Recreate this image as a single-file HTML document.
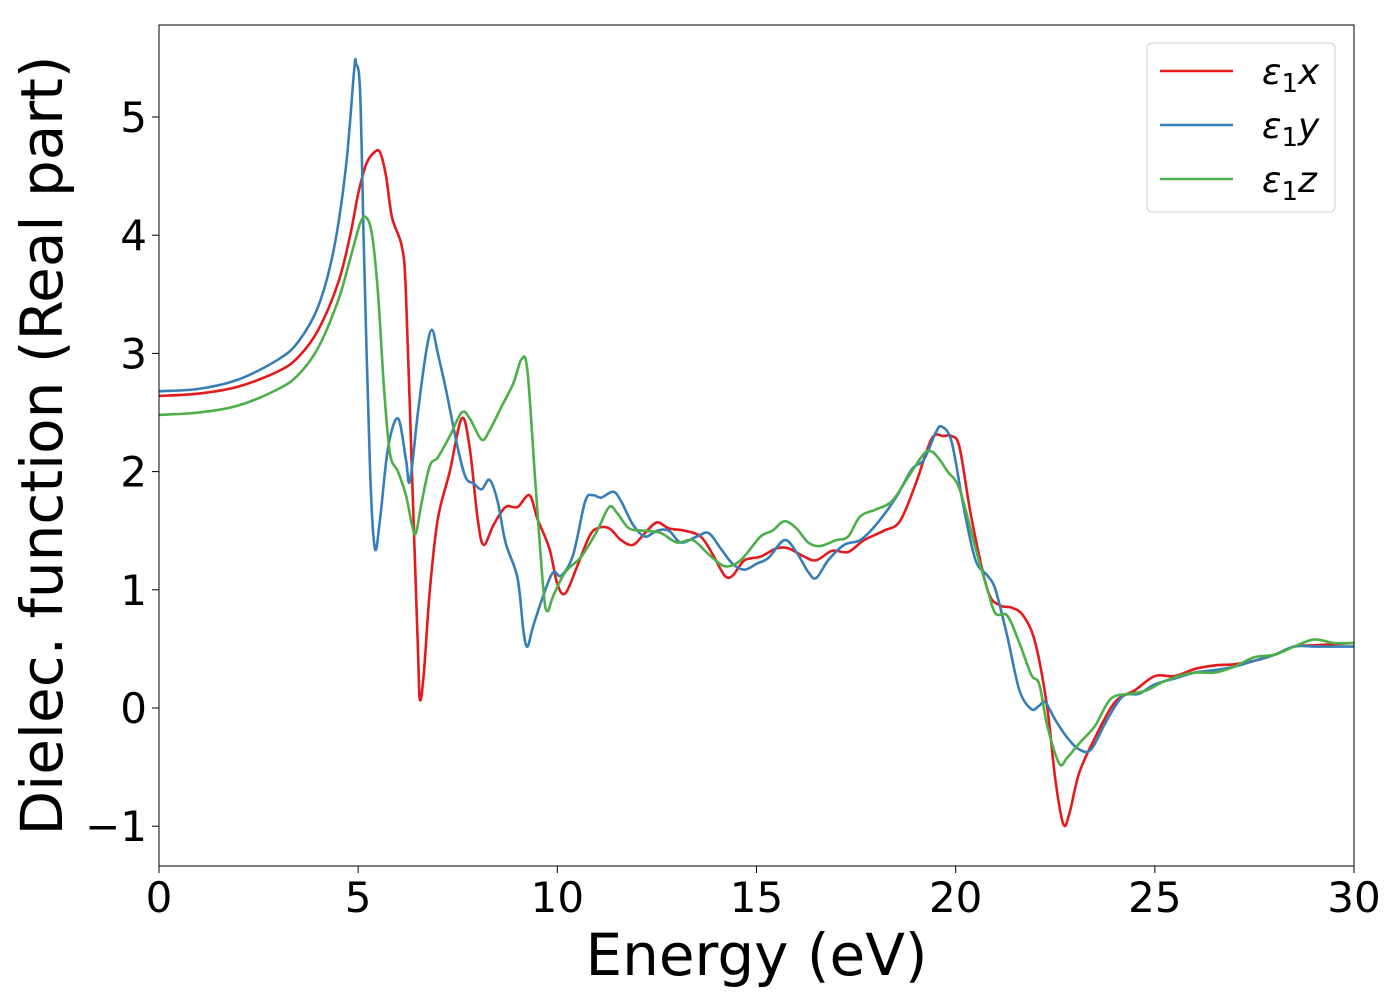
<!DOCTYPE html>
<html><head><meta charset="utf-8"><style>
html,body{margin:0;padding:0;background:#fff;width:1400px;height:1000px;overflow:hidden}
svg text{font-family:"DejaVu Sans","Liberation Sans",sans-serif;fill:#000}
</style></head><body>
<svg id="chart" width="1400" height="1000" xmlns="http://www.w3.org/2000/svg">
<g id="plot"></g>
</svg>
<script>
const xTicks=[0,5,10,15,20,25,30];
const yTicks=[-1,0,1,2,3,4,5];
const yTickLabels=["\u22121","0","1","2","3","4","5"];
const seriesNames=["x","y","z"];
const seriesColors=["#e41a1c","#377eb8","#4daf4a"];
const xE=[0,1,2,3,3.5,4,4.5,4.8,5,5.2,5.4,5.55,5.7,5.85,6.1,6.2,6.35,6.5,6.55,6.65,6.8,7.0,7.3,7.6,7.8,8.0,8.15,8.4,8.7,9.0,9.3,9.5,9.8,10.0,10.2,10.5,10.8,11.0,11.3,11.6,11.9,12.2,12.5,12.8,13.2,13.6,13.9,14.2,14.4,14.7,15.1,15.5,15.8,16.2,16.5,16.9,17.3,17.7,18.2,18.6,19.0,19.4,19.7,19.9,20.1,20.4,20.8,21.1,21.4,21.7,22.0,22.3,22.5,22.7,22.85,23.1,23.5,24,24.5,25,25.5,26,26.5,27,27.5,28,28.5,29,30];
const xV=[2.64,2.66,2.72,2.85,2.97,3.2,3.6,4.0,4.35,4.6,4.7,4.7,4.5,4.15,3.9,3.5,2.0,0.5,0.07,0.3,1.0,1.6,2.0,2.45,2.2,1.6,1.38,1.55,1.7,1.7,1.8,1.6,1.35,1.05,0.97,1.2,1.45,1.52,1.52,1.42,1.38,1.48,1.57,1.52,1.5,1.45,1.3,1.12,1.12,1.25,1.28,1.35,1.35,1.28,1.25,1.33,1.32,1.42,1.5,1.58,1.9,2.28,2.3,2.3,2.2,1.6,1.0,0.87,0.85,0.78,0.55,0.0,-0.6,-0.98,-0.9,-0.55,-0.25,0.05,0.15,0.27,0.27,0.33,0.36,0.37,0.40,0.45,0.52,0.53,0.55];
const yE=[0,1,2,3,3.5,4,4.4,4.7,4.9,4.95,5.05,5.15,5.3,5.42,5.55,5.75,6.0,6.2,6.3,6.5,6.7,6.85,7.0,7.2,7.5,7.7,7.9,8.1,8.3,8.5,8.7,9.0,9.15,9.25,9.4,9.7,9.9,10.1,10.4,10.7,10.9,11.1,11.4,11.6,11.9,12.2,12.5,12.8,13.1,13.5,13.8,14.1,14.4,14.7,15.0,15.3,15.7,16.0,16.3,16.5,16.8,17.2,17.6,18.0,18.5,18.9,19.2,19.5,19.65,19.9,20.2,20.5,20.8,21.0,21.3,21.6,21.9,22.1,22.25,22.5,22.8,23.1,23.4,23.8,24.2,24.6,25,25.5,26,26.5,27,27.5,28,28.5,29,29.5,30];
const yV=[2.68,2.70,2.78,2.95,3.1,3.4,3.9,4.6,5.4,5.45,5.2,3.8,2.0,1.35,1.6,2.2,2.45,2.1,1.92,2.5,3.0,3.2,3.0,2.7,2.2,1.95,1.9,1.85,1.93,1.75,1.4,1.1,0.65,0.52,0.7,1.0,1.15,1.12,1.3,1.75,1.8,1.78,1.83,1.75,1.55,1.45,1.5,1.5,1.4,1.45,1.48,1.35,1.22,1.17,1.22,1.27,1.42,1.32,1.15,1.1,1.25,1.38,1.42,1.55,1.78,2.02,2.1,2.33,2.38,2.25,1.7,1.25,1.12,1.0,0.6,0.15,-0.01,0.02,0.05,-0.1,-0.25,-0.35,-0.35,-0.1,0.1,0.12,0.2,0.25,0.3,0.32,0.35,0.4,0.45,0.52,0.52,0.52,0.52];
const zE=[0,1,2,3,3.5,4,4.5,4.8,5.05,5.2,5.35,5.5,5.65,5.8,6.0,6.2,6.35,6.45,6.6,6.8,7.0,7.3,7.6,7.8,8.1,8.3,8.6,8.9,9.1,9.25,9.45,9.65,9.75,9.9,10.2,10.6,11.0,11.3,11.5,11.8,12.2,12.6,13.0,13.4,13.8,14.2,14.6,15.1,15.4,15.7,16.0,16.3,16.6,17.0,17.3,17.6,18.0,18.4,18.8,19.2,19.4,19.6,19.8,20.1,20.5,20.8,21.0,21.3,21.6,21.9,22.1,22.3,22.6,22.8,23.1,23.5,23.9,24.4,24.8,25.2,25.6,26,26.5,27,27.5,28,28.5,29,29.5,30];
const zV=[2.48,2.5,2.56,2.7,2.82,3.05,3.45,3.8,4.1,4.15,4.0,3.5,2.7,2.15,2.0,1.8,1.55,1.48,1.75,2.05,2.12,2.3,2.5,2.45,2.27,2.35,2.55,2.75,2.95,2.85,1.9,1.0,0.82,0.95,1.15,1.28,1.5,1.7,1.65,1.52,1.5,1.48,1.4,1.42,1.3,1.2,1.25,1.45,1.5,1.58,1.52,1.4,1.37,1.42,1.45,1.62,1.68,1.75,1.95,2.15,2.17,2.1,2.0,1.85,1.35,1.0,0.8,0.78,0.55,0.28,0.2,-0.15,-0.47,-0.42,-0.3,-0.15,0.08,0.12,0.15,0.22,0.27,0.3,0.3,0.35,0.43,0.45,0.52,0.58,0.55,0.55];

const L=159,R=1354,T=25,B=866;
const sx=v=>L+(v-0)/(30-0)*(R-L);
const sy=v=>708-v*118.2;
const NS="http://www.w3.org/2000/svg";
const svg=document.getElementById('chart');
function mk(tag,attrs,parent){const e=document.createElementNS(NS,tag);for(const k in attrs)e.setAttribute(k,attrs[k]);(parent||svg).appendChild(e);return e;}

function smooth(xs,ys){
  const p=xs.map((x,i)=>[sx(x),sy(ys[i])]);
  let d=`M${p[0][0]},${p[0][1]}`;
  for(let i=0;i<p.length-1;i++){
    const p0=p[Math.max(0,i-1)],p1=p[i],p2=p[i+1],p3=p[Math.min(p.length-1,i+2)];
    const c1=[p1[0]+(p2[0]-p0[0])/6,p1[1]+(p2[1]-p0[1])/6];
    const c2=[p2[0]-(p3[0]-p1[0])/6,p2[1]-(p3[1]-p1[1])/6];
    d+=` C${c1[0]},${c1[1]} ${c2[0]},${c2[1]} ${p2[0]},${p2[1]}`;
  }
  return d;
}
mk('defs',{}).innerHTML='<clipPath id="clip"><rect x="159" y="25" width="1195" height="841"/></clipPath>';
const plot=document.getElementById('plot');
plot.setAttribute('clip-path','url(#clip)');
const data=[[xE,xV],[yE,yV],[zE,zV]];
data.forEach((s,i)=>{
  const path=mk('path',{d:smooth(s[0],s[1]),fill:'none',stroke:seriesColors[i],'stroke-width':2.6,'stroke-linejoin':'round'},plot);
  
  
});
const frame=mk('rect',{x:L,y:T,width:R-L,height:B-T,fill:'none',stroke:'#000','stroke-width':1});


xTicks.forEach(t=>{
  const x=sx(t);
  const tk=mk('line',{x1:x,x2:x,y1:B,y2:B+7,stroke:'#000','stroke-width':1});
  
  
  const tx=mk('text',{x:x,y:B+46,'text-anchor':'middle','font-size':42});
  tx.textContent=t;
  
  
});
yTicks.forEach((t,i)=>{
  const y=sy(t);
  const tk=mk('line',{x1:L-7,x2:L,y1:y,y2:y,stroke:'#000','stroke-width':1});
  
  
  const tx=mk('text',{x:L-12,y:y+15,'text-anchor':'end','font-size':42});
  tx.textContent=yTickLabels[i];
  
  
});
const xl=mk('text',{x:(L+R)/2,y:975,'text-anchor':'middle','font-size':58});
xl.textContent='Energy (eV)';


const yl=mk('text',{x:0,y:0,'text-anchor':'middle','font-size':58,transform:`translate(62,${(T+B)/2}) rotate(-90)`});
yl.textContent='Dielec. function (Real part)';


const lg=mk('g',{});


mk('rect',{x:1147,y:43,width:188,height:169,rx:5,fill:'#fff',stroke:'#ccc','stroke-width':1,opacity:0.9},lg);
seriesNames.forEach((n,i)=>{
  const y=71+i*54;
  const ln=mk('line',{x1:1160,x2:1233,y1:y,y2:y,stroke:seriesColors[i],'stroke-width':2.6},lg);
  
  
  const tx=mk('text',{x:1262,y:y+13,'font-size':36},lg);
  tx.innerHTML='<tspan font-style="italic">\u03b5</tspan><tspan font-size="26" dy="8">1</tspan><tspan font-style="italic" dy="-8">'+n+'</tspan>';
  
  
});
</script>
</body></html>
